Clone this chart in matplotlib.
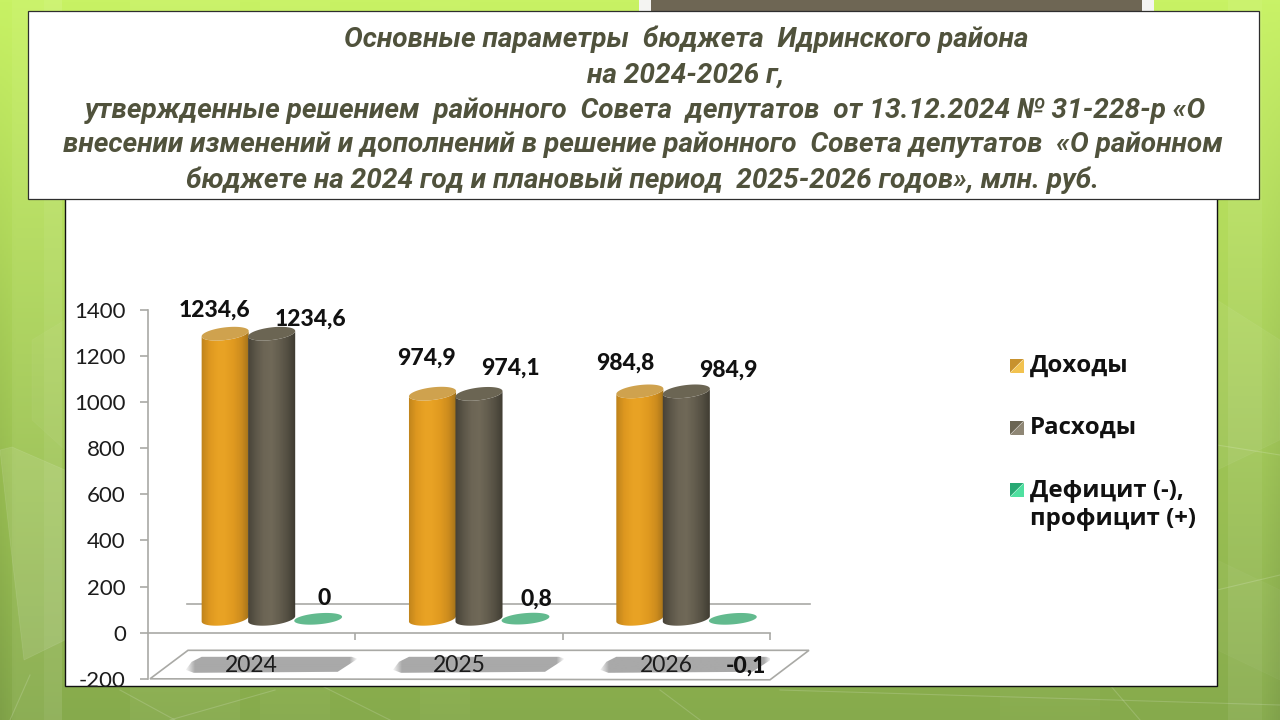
import numpy as np
import matplotlib
matplotlib.use("Agg")
import matplotlib.pyplot as plt
from matplotlib.patches import Polygon, Rectangle
from matplotlib.ticker import FixedLocator, FixedFormatter, NullFormatter

# ---------- data ----------
years = ["2024", "2025", "2026"]
dohody = [1234.6, 974.9, 984.8]
rashody = [1234.6, 974.1, 984.9]
deficit = [0.0, 0.8, -0.1]
labels_doh = ["1234,6", "974,9", "984,8"]
labels_ras = ["1234,6", "974,1", "984,9"]
labels_def = ["0", "0,8", "-0,1"]
series_names = ["Доходы", "Расходы", "Дефицит (-),\nпрофицит (+)"]
yticks = [-200, 0, 200, 400, 600, 800, 1000, 1200, 1400]
title_lines = [
    "Основные параметры  бюджета  Идринского района",
    "на 2024-2026 г,",
    "утвержденные решением  районного  Совета  депутатов  от 13.12.2024 № 31-228-р «О",
    "внесении изменений и дополнений в решение районного  Совета депутатов  «О районном",
    "бюджете на 2024 год и плановый период  2025-2026 годов», млн. руб.",
]

W, H = 1280, 720
fig = plt.figure(figsize=(12.8, 7.2), dpi=100)

# ---------- slide background (pixel coordinates) ----------
bg = fig.add_axes([0, 0, 1, 1])
bg.set_xlim(0, W); bg.set_ylim(H, 0); bg.axis("off")
yy = np.linspace(0, 1, 360)[:, None]
xx = np.linspace(0, 1, 640)[None, :]
top = np.array([200, 242, 100.]); bot = np.array([134, 170, 76.])
img = top[None, None, :] * (1 - yy[..., None]) + bot[None, None, :] * yy[..., None]
img = img * np.ones((360, 640, 3))
edge = np.clip(1 - np.minimum(xx, 1 - xx) / 0.012, 0, 1)
img *= (1 - 0.06 * edge * yy)[..., None]
for x0, x1, a in [(12, 44, .05), (44, 62, .10), (1228, 1262, .07), (130, 240, .04),
                  (260, 330, .03), (420, 470, .03), (1000, 1100, .02), (1262, 1280, .02)]:
    i0, i1 = int(x0 / 2), int(x1 / 2)
    img[:, i0:i1] = img[:, i0:i1] * (1 - a) + 255 * a
bg.imshow(img.astype(np.uint8), extent=[0, W, H, 0], aspect="auto", zorder=0)
bg.set_xlim(0, W); bg.set_ylim(H, 0)
for pts, a in [([(0, 450), (12, 447), (65, 470), (65, 640), (24, 660), (10, 540)], .10),
               ([(32, 340), (65, 320), (65, 450), (32, 420)], .04),
               ([(1217, 300), (1280, 340), (1280, 440), (1217, 470)], .05),
               ([(1217, 560), (1280, 590), (1280, 680), (1217, 650)], .03)]:
    bg.add_patch(Polygon(pts, closed=True, fc="white", ec="white", lw=0.6, alpha=a, zorder=1))
for (x0, y0, x1, y1) in [(10, 720, 30, 675), (120, 690, 175, 720), (275, 690, 170, 720),
                         (320, 685, 390, 720), (660, 690, 700, 720), (780, 690, 1280, 705),
                         (1110, 685, 1140, 720), (1217, 445, 1280, 455), (1217, 590, 1280, 575)]:
    bg.plot([x0, x1], [y0, y1], color="white", lw=0.8, alpha=.16, zorder=1)
bg.add_patch(Rectangle((639, 0), 515, 11, fc="#f4f4f2", ec="none", zorder=2))
bg.add_patch(Rectangle((651, 0), 491, 11, fc="#6e6654", ec="none", zorder=3))
bg.add_patch(Rectangle((64.5, 195), 1152, 490.5, fc="white", ec="#111111", lw=1.0, zorder=2))
bg.add_patch(Rectangle((27.5, 11), 1231.5, 188, fc="white", ec="#2e2e2e", lw=0.9, zorder=4))

title_x = [686, 686, 645, 643, 642]
title_y = [39, 75, 110, 145, 180]
for s, x, y in zip(title_lines, title_x, title_y):
    bg.text(x, y, s, ha="center", va="center", family="Roboto", weight="bold",
            style="italic", fontsize=20.2, color="#50523c", zorder=5)

# ---------- chart axes ----------
L, R, T, B = 148, 770, 309.5, 679
ax = fig.add_axes([L / W, 1 - B / H, (R - L) / W, (B - T) / H])
ax.patch.set_alpha(0)
ax.set_xlim(0, 3); ax.set_ylim(-200, 1400)
PX = (R - L) / 3            # pixels per category
PY = (B - T) / 1600         # pixels per value unit
GRAY = "#a9a9a5"
for s in ["top", "right"]:
    ax.spines[s].set_visible(False)
ax.spines["left"].set_color(GRAY); ax.spines["left"].set_linewidth(1.2)
ax.spines["bottom"].set_color(GRAY); ax.spines["bottom"].set_linewidth(1.2)
ax.spines["bottom"].set_position(("data", 0))
ax.set_yticks(yticks)
ax.set_yticklabels([str(v) for v in yticks], family="Lato", fontsize=16, color="#1c1c1c")
ax.tick_params(axis="y", length=6, width=1.2, color=GRAY, pad=10)
ax.xaxis.set_major_locator(FixedLocator([1, 2, 3]))
ax.xaxis.set_major_formatter(NullFormatter())
ax.xaxis.set_minor_locator(FixedLocator([0.5, 1.5, 2.5]))
ax.xaxis.set_minor_formatter(FixedFormatter(years))
ax.tick_params(axis="x", which="major", length=5, width=1.2, color=GRAY)
ax.tick_params(axis="x", which="minor", length=0, pad=16, labelsize=16.5, labelcolor="#1c1c1c")
for t in ax.xaxis.get_minorticklabels():
    t.set_family("Lato")
    t.set_zorder(3)

# depth geometry of the fake 3-D box
DX = 20 / PX                # depth shift, categories
DY = 14 / PY                # depth shift, value units
BAR_W = 46.5 / PX


def px_x(p):
    return p / PX


def px_y(p):
    return p / PY


# back wall + floor plate
ax.plot([(187 - L) / PX, (810 - L) / PX], [px_y(29)] * 2, color=GRAY, lw=1.2, clip_on=False, zorder=1)
plate = [(188, 650.5), (809, 650.5), (770, 680), (150, 679)]
ax.add_patch(Polygon([((x - L) / PX, (633 - y) / PY) for x, y in plate], closed=True, fc="none",
                     ec=GRAY, lw=1.2, clip_on=False, zorder=1))

# soft grey shadows on the plate
for i in range(3):
    cx = i + 0.5
    sh = [(-50, 657), (100, 657), (106, 659), (86, 672), (-58, 673), (-66, 670), (-60, 662)]
    poly = Polygon([(cx + px_x(x), (633 - y) / PY) for x, y in sh], closed=True, fc="none", ec="none",
                   clip_on=False)
    ax.add_patch(poly)
    ramp = np.clip(np.minimum(np.linspace(0, 172, 172) / 10 + 0.15, np.linspace(172, 0, 172) / 8), 0, 1)
    rgba = np.ones((1, 172, 4)) * 169 / 255
    rgba[0, :, 3] = ramp
    im = ax.imshow(rgba, extent=[cx + px_x(-66), cx + px_x(106), (633 - 674) / PY, (633 - 656) / PY],
                   aspect="auto", zorder=1.2, clip_on=True, interpolation="bilinear")
    im.set_clip_path(poly)


def ellipse(cx, cy, hw=23.7, hh=6.3, tilt=7):
    t = np.linspace(0, 2 * np.pi, 80)
    a = np.deg2rad(tilt)
    ex, ey = hw * np.cos(t), hh * np.sin(t)
    return cx + px_x(ex * np.cos(a) - ey * np.sin(a)), cy + px_y(ex * np.sin(a) + ey * np.cos(a))


def cylinder(cx, value, colors, cap, z):
    """cx in categories, value in data units."""
    y0, y1 = DY, DY + value
    tx, ty = ellipse(cx, y1)
    t = np.linspace(np.pi, 2 * np.pi, 40)
    a = np.deg2rad(7); hw, hh = 23.7, 6.3
    ex, ey = hw * np.cos(t), hh * np.sin(t)
    xb = cx + px_x(ex * np.cos(a) - ey * np.sin(a))
    yb = y0 + px_y(ex * np.sin(a) + ey * np.cos(a))
    xt = cx + px_x(ex[::-1] * np.cos(a) - ey[::-1] * np.sin(a))
    yt = y1 + px_y(ex[::-1] * np.sin(a) + ey[::-1] * np.cos(a))
    body = Polygon(np.r_[np.c_[xb, yb], np.c_[xt, yt]], closed=True, fc="none", ec="none")
    ax.add_patch(body)
    ramp = np.linspace(0, 1, 64)
    grad = np.zeros((1, 64, 3))
    stops = np.array(colors, float)
    for c in range(3):
        grad[0, :, c] = np.interp(ramp, np.linspace(0, 1, len(stops)), stops[:, c])
    im = ax.imshow(grad.astype(np.uint8), extent=[cx - BAR_W / 2 - px_x(1), cx + BAR_W / 2 + px_x(1),
                                                  y0 - px_y(9), y1 + px_y(9)],
                   aspect="auto", zorder=z, interpolation="bilinear")
    im.set_clip_path(body)
    ax.fill(tx, ty, color=cap, zorder=z + 0.1, lw=0)


ORANGE = [(190, 132, 28), (222, 152, 32), (232, 162, 36), (232, 162, 36), (224, 154, 32), (205, 140, 30), (160, 112, 26)]
BROWN = [(70, 66, 55), (92, 86, 72), (108, 101, 85), (112, 105, 88), (100, 94, 79), (84, 79, 66), (62, 58, 49)]
GREEN = "#62ba8e"
for i in range(3):
    c = i + 0.5 + DX
    cylinder(c - BAR_W, dohody[i], ORANGE, "#cfa24e", 3)
    cylinder(c, rashody[i], BROWN, "#6b6553", 4)
    gx, gy = ellipse(c + BAR_W, DY + deficit[i], hw=24, hh=5.5, tilt=5)
    ax.fill(gx, gy, color=GREEN, zorder=5, lw=0)
ax.set_xlim(0, 3); ax.set_ylim(-200, 1400)

# data labels, offsets in pixels from each cylinder top
off_doh = [(-11, 24), (-6, 36), (-15, 28)]
off_ras = [(39, 15), (31, 26), (42, 21)]
off_def = [(6, 20), (11, 19), (13, -47)]
lab = dict(family="Lato", weight=900, fontsize=16.5, color="#111111", ha="center", va="center",
           textcoords="offset pixels", annotation_clip=False, zorder=7)
for i in range(3):
    c = i + 0.5 + DX
    ax.annotate(labels_doh[i], (c - BAR_W, DY + dohody[i]), xytext=off_doh[i], **lab)
    ax.annotate(labels_ras[i], (c, DY + rashody[i]), xytext=off_ras[i], **lab)
    ax.annotate(labels_def[i], (c + BAR_W, DY + deficit[i]), xytext=off_def[i], **lab)

# ---------- legend ----------
leg = fig.add_axes([0, 0, 1, 1]); leg.patch.set_alpha(0)
leg.set_xlim(0, W); leg.set_ylim(H, 0); leg.axis("off")
marks = [((1010, 359), "#c8922e", "#f2c24f"), ((1010, 421), "#6b6553", "#8f8775"), ((1010, 483), "#27a873", "#4fe0a0")]
text_y = [366, 428, 505]
for (pos, c1, c2), name, ty in zip(marks, series_names, text_y):
    x, y = pos
    s = 13.5
    leg.add_patch(Polygon([(x, y), (x + s, y), (x, y + s)], fc=c1, ec="none"))
    leg.add_patch(Polygon([(x + s, y), (x + s, y + s), (x, y + s)], fc=c2, ec="none"))
    leg.text(1030, ty, name, family="Open Sans", weight="bold", fontsize=17.3, color="#111111",
             va="center", ha="left", linespacing=1.2)

fig.savefig("out.png", dpi=100)
